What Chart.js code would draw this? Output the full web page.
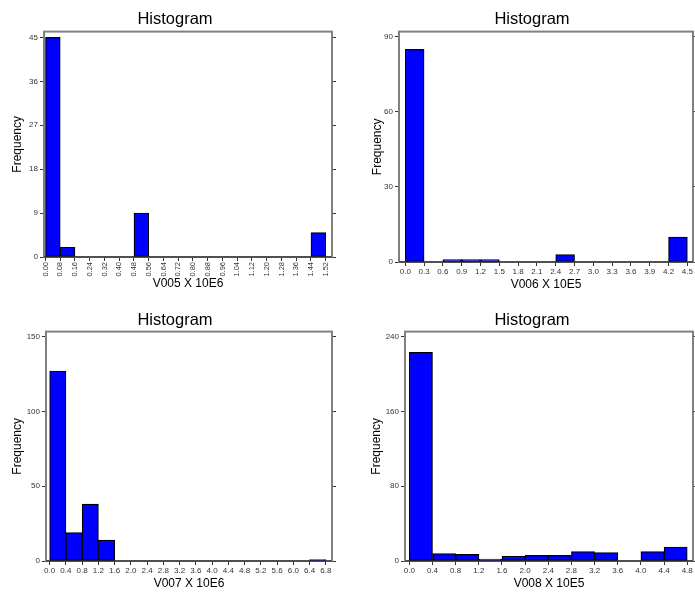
<!DOCTYPE html>
<html>
<head>
<meta charset="utf-8">
<script src="https://cdn.jsdelivr.net/npm/chart.js@4.4.1/dist/chart.umd.min.js"></script>
<style>
  html, body { margin: 0; padding: 0; background: #fff; }
  #wrap { position: relative; width: 695px; height: 594px; overflow: hidden; }
  #wrap canvas { position: absolute; }
</style>
</head>
<body>
<div id="wrap">
  <canvas id="c1" width="347" height="297" style="left:0;top:0"></canvas>
  <canvas id="c2" width="348" height="297" style="left:347px;top:0"></canvas>
  <canvas id="c3" width="347" height="297" style="left:0;top:297px"></canvas>
  <canvas id="c4" width="348" height="297" style="left:347px;top:297px"></canvas>
</div>
<script>
// ---- Histogram data: bin edges (used as x tick labels) and frequencies ----
const v005Edges = ['0.00','0.08','0.16','0.24','0.32','0.40','0.48','0.56','0.64','0.72',
                   '0.80','0.88','0.96','1.04','1.12','1.20','1.28','1.36','1.44','1.52'];
const v005Counts = [45, 2, 0, 0, 0, 0, 9, 0, 0, 0, 0, 0, 0, 0, 0, 0, 0, 0, 5];
const v005YTicks = [0, 9, 18, 27, 36, 45];

const v006Edges = ['0.0','0.3','0.6','0.9','1.2','1.5','1.8','2.1','2.4','2.7',
                   '3.0','3.3','3.6','3.9','4.2','4.5'];
const v006Counts = [85, 0, 1, 1, 1, 0, 0, 0, 3, 0, 0, 0, 0, 0, 10];
const v006YTicks = [0, 30, 60, 90];

const v007Edges = ['0.0','0.4','0.8','1.2','1.6','2.0','2.4','2.8','3.2','3.6',
                   '4.0','4.4','4.8','5.2','5.6','6.0','6.4','6.8'];
const v007Counts = [127, 19, 38, 14, 0, 0, 0, 0, 0, 0, 0, 0, 0, 0, 0, 0, 1];
const v007YTicks = [0, 50, 100, 150];

const v008Edges = ['0.0','0.4','0.8','1.2','1.6','2.0','2.4','2.8','3.2','3.6',
                   '4.0','4.4','4.8'];
const v008Counts = [223, 8, 7, 2, 5, 6, 6, 10, 9, 0, 10, 15];
const v008YTicks = [0, 80, 160, 240];

// ---- Panel layout (axis ranges and box sizes) ----
const panels = [
  { id: 'c1', edges: v005Edges, counts: v005Counts, yTicks: v005YTicks, xTitle: 'V005 X 10E6',
    xMin: -0.008, xMax: 1.554, yMax: 46.2, rot: 90, xLabelPad: 1, xLabelSize: 7.5,
    padL: 3, titleTop: 9.8, titleBottom: 2, yW: 41, rW: 15, xH: 40, yTitlePad: 7.3, xTitlePad: 6.6 },
  { id: 'c2', edges: v006Edges, counts: v006Counts, yTicks: v006YTicks, xTitle: 'V006 X 10E5',
    xMin: -0.1, xMax: 4.59, yMax: 92.1, rot: 0, xLabelPad: 1, xLabelSize: 8,
    padL: 22, titleTop: 9.8, titleBottom: 2, yW: 30, rW: 2, xH: 35, yTitlePad: 1, xTitlePad: 5.6 },
  { id: 'c3', edges: v007Edges, counts: v007Counts, yTicks: v007YTicks, xTitle: 'V007 X 10E6',
    xMin: -0.09, xMax: 6.95, yMax: 153.3, rot: 0, xLabelPad: 1, xLabelSize: 8,
    padL: 3, titleTop: 13.9, titleBottom: 0.9, yW: 43, rW: 15, xH: 33, yTitlePad: 7.3, xTitlePad: 3.6 },
  { id: 'c4', edges: v008Edges, counts: v008Counts, yTicks: v008YTicks, xTitle: 'V008 X 10E5',
    xMin: -0.075, xMax: 4.9, yMax: 245.3, rot: 0, xLabelPad: 1, xLabelSize: 8,
    padL: 22, titleTop: 13.9, titleBottom: 0.9, yW: 36, rW: 2, xH: 33, yTitlePad: 0.5, xTitlePad: 3 }
];

const FONT = "'Liberation Sans', Arial, sans-serif";
Chart.defaults.font.family = FONT;

// Grey frame around the plotting area, drawn beneath the bars
const framePlugin = {
  id: 'frame',
  beforeDatasetsDraw(chart) {
    const { ctx, chartArea: a } = chart;
    ctx.save();
    ctx.strokeStyle = '#808080';
    ctx.lineWidth = 2;
    ctx.strokeRect(a.left, a.top, a.right - a.left, a.bottom - a.top);
    ctx.strokeStyle = '#404040';
    ctx.lineWidth = 1.5;
    ctx.beginPath();
    ctx.moveTo(a.left, a.bottom);
    ctx.lineTo(a.right, a.bottom);
    ctx.stroke();
    ctx.restore();
  }
};

const tickGrid = { drawOnChartArea: false, offset: false, drawTicks: true, tickLength: 4, tickColor: '#333', tickWidth: 1 };

function noPadX(s) { s.paddingLeft = 0; s.paddingRight = 0; }
function noPadY(s) { s.paddingTop = 0; s.paddingBottom = 0; }

panels.forEach(p => {
  const points = p.counts.map((c, i) => ({ x: (parseFloat(p.edges[i]) + parseFloat(p.edges[i + 1])) / 2, y: c }));
  new Chart(document.getElementById(p.id), {
    type: 'bar',
    data: {
      datasets: [{
        data: points,
        backgroundColor: '#0000ff',
        borderColor: '#000000',
        borderWidth: 1.2,
        borderSkipped: false,
        categoryPercentage: 1,
        barPercentage: 1
      }]
    },
    options: {
      responsive: false,
      animation: false,
      events: [],
      layout: { padding: { left: p.padL, right: 0, top: 0, bottom: 0 } },
      plugins: {
        legend: { display: false },
        tooltip: { enabled: false },
        title: {
          display: true, text: 'Histogram', color: '#000',
          font: { size: 16.5, weight: 'normal', family: FONT },
          padding: { top: p.titleTop, bottom: p.titleBottom }
        }
      },
      scales: {
        x: {
          type: 'linear', min: p.xMin, max: p.xMax, offset: false,
          grid: tickGrid,
          border: { display: false },
          afterBuildTicks: s => { s.ticks = p.edges.map(e => ({ value: parseFloat(e) })); },
          afterFit: s => { s.height = p.xH; noPadX(s); },
          ticks: {
            autoSkip: false, minRotation: p.rot, maxRotation: p.rot, padding: p.xLabelPad,
            color: '#333', font: { size: p.xLabelSize, family: FONT },
            callback: (v, i) => p.edges[i]
          },
          title: {
            display: true, text: p.xTitle, color: '#000',
            font: { size: 12, family: FONT },
            padding: { top: 0, bottom: p.xTitlePad }
          }
        },
        y: {
          type: 'linear', position: 'left', min: 0, max: p.yMax,
          grid: tickGrid,
          border: { display: false },
          afterBuildTicks: s => { s.ticks = p.yTicks.map(v => ({ value: v })); },
          afterFit: s => { s.width = p.yW; noPadY(s); },
          ticks: { padding: 2, color: '#333', font: { size: 8, family: FONT } },
          title: {
            display: true, text: 'Frequency', color: '#000',
            font: { size: 12, family: FONT },
            padding: { top: p.yTitlePad, bottom: 0 }
          }
        },
        yr: {
          type: 'linear', position: 'right', min: 0, max: p.yMax,
          grid: tickGrid,
          border: { display: false },
          afterBuildTicks: s => { s.ticks = p.yTicks.map(v => ({ value: v })); },
          afterFit: s => { s.width = p.rW; noPadY(s); },
          ticks: { display: false }
        }
      }
    },
    plugins: [framePlugin]
  });
});
</script>
</body>
</html>
